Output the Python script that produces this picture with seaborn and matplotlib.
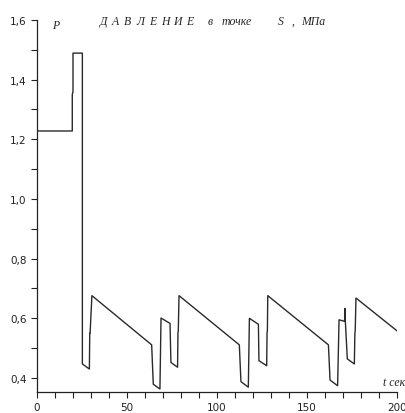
import matplotlib
matplotlib.use("Agg")
import matplotlib.pyplot as plt
import seaborn as sns
import pandas as pd
from matplotlib.ticker import MultipleLocator, FuncFormatter

# time (s) and pressure (MPa)
t_sec = [0, 19.6, 19.6, 20.0, 20.0, 25.2, 25.2, 29.1, 29.3, 29.5, 30.5,
         63.7, 64.6, 68.3, 68.9, 73.9, 74.4, 78.1, 78.3, 78.5, 78.9,
         112.4, 113.3, 117.4, 118.0, 123.0, 123.3, 127.6, 127.8, 128.0, 128.2,
         161.9, 162.8, 167.0, 167.8, 170.8, 171.0, 171.1, 171.3, 172.4, 176.3, 176.6, 176.8, 177.2,
         200]
p_mpa = [1.228, 1.228, 1.35, 1.36, 1.489, 1.489, 0.447, 0.430, 0.55, 0.55, 0.676,
         0.511, 0.379, 0.363, 0.601, 0.583, 0.452, 0.436, 0.55, 0.56, 0.676,
         0.511, 0.388, 0.369, 0.600, 0.580, 0.458, 0.441, 0.55, 0.56, 0.676,
         0.511, 0.393, 0.374, 0.595, 0.590, 0.605, 0.633, 0.590, 0.464, 0.447, 0.55, 0.56, 0.668,
         0.558]

x_ticks = [0, 50, 100, 150, 200]
y_ticks = [0.4, 0.6, 0.8, 1.0, 1.2, 1.4, 1.6]
title_parts = ["Д", "А", "В", "Л", "Е", "Н", "И", "Е", "в", "точке", "S", ",", "МПа"]
title_px = [100, 112, 124, 136, 149, 161, 173, 186, 208, 222, 278, 292, 301]

df = pd.DataFrame({"t": t_sec, "P": p_mpa})

sns.set_style("ticks")
plt.rcParams['font.family'] = ['DejaVu Sans']
fig = plt.figure(figsize=(4.06, 4.14), dpi=100)
ax = fig.add_axes([37/406, 1-393/414, 360/406, 372/414])

sns.lineplot(data=df, x="t", y="P", sort=False, estimator=None,
             color="#2a2a2a", lw=1.0, ax=ax)

ax.set_xlim(0, 200)
ax.set_ylim(0.353, 1.6)
ax.set_xticks(x_ticks)
ax.set_yticks(y_ticks)
ax.xaxis.set_minor_locator(MultipleLocator(10))
ax.yaxis.set_minor_locator(MultipleLocator(0.1))
ax.yaxis.set_major_formatter(FuncFormatter(lambda v, p: f"{v:.1f}".replace(".", ",")))
ax.xaxis.set_major_formatter(FuncFormatter(lambda v, p: f"{int(v)}"))
ax.tick_params(axis="both", which="both", direction="out", length=4, width=0.8,
               labelsize=7.5, colors="#222222")
ax.set_xlabel("")
ax.set_ylabel("")
sns.despine(ax=ax)
for s in ["left", "bottom"]:
    ax.spines[s].set_linewidth(0.9)
    ax.spines[s].set_color("#222222")

fig.text(52/406, 1-26/414, "P", fontsize=8.5, style="italic",
         family="Liberation Serif", va="center", ha="left")
for part, px in zip(title_parts, title_px):
    fig.text(px/406, 1-22/414, part, fontsize=8.5, style="italic",
             family="Liberation Serif", va="center", ha="left")
fig.text(383/406, 1-383/414, "t сек", fontsize=8.5, style="italic",
         family="Liberation Serif", va="center", ha="left")

fig.savefig("out.png", dpi=100)
